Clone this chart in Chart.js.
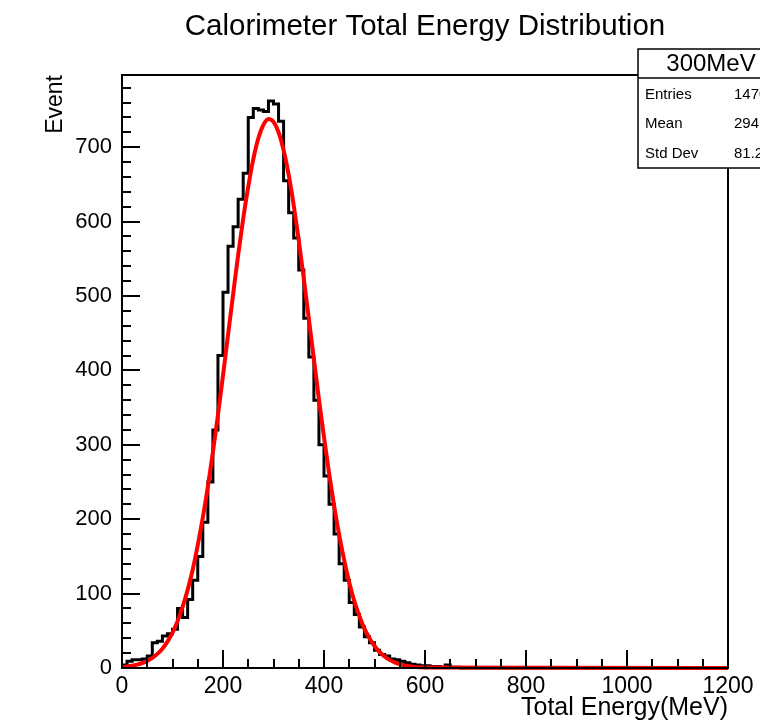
<!DOCTYPE html>
<html><head><meta charset="utf-8">
<script src="https://cdn.jsdelivr.net/npm/chart.js@4"></script>
<style>html,body{margin:0;padding:0;background:#fff;}canvas{display:block}</style>
</head><body>
<canvas id="c" width="760" height="723" style="width:760px;height:723px"></canvas>
<script>
const titleText = 'Calorimeter Total Energy Distribution';
const xTitle = 'Total Energy(MeV)';
const yTitle = 'Event';
const binWidth = 10;            // MeV per bin
const xMin = 0, xMax = 1200;
const yMin = 0, yMax = 797;
const xTicks = [0, 200, 400, 600, 800, 1000, 1200];
const yTicks = [0, 100, 200, 300, 400, 500, 600, 700];
const xMinorStep = 50, yMinorStep = 20;

// histogram counts, bins of 10 MeV from 0 to 1200
const counts = [
  4, 9, 11, 11, 12, 16, 34, 36, 43, 46,
  52, 80, 68, 92, 118, 150, 196, 250, 320, 420,
  505, 567, 593, 630, 665, 740, 752, 750, 748, 762,
  758, 735, 655, 612, 578, 535, 470, 418, 360, 300,
  258, 220, 180, 140, 118, 88, 72, 55, 42, 34,
  24, 18, 16, 12, 11, 9, 7, 5, 4, 3,
  3, 2, 2, 1, 4, 1, 1, 0, 0, 0,
  0, 0, 0, 0, 0, 0, 0, 0, 0, 0,
  0, 0, 0, 0, 0, 0, 0, 0, 0, 0,
  0, 0, 0, 0, 0, 0, 0, 0, 0, 0,
  0, 0, 0, 0, 0, 0, 0, 0, 0, 0,
  0, 0, 0, 0, 0, 0, 0, 0, 0, 0
];

// gaussian fit curve
const fitX = [0,10,20,30,40,50,60,70,80,90,100,110,120,130,140,150,160,170,180,190,
  200,210,220,230,240,250,260,270,280,290,300,310,320,330,340,350,360,370,380,390,
  400,410,420,430,440,450,460,470,480,490,500,510,520,530,540,550,560,570,580,590,600,1200];
const fitY = [1.3,2,3,4.5,6.6,9.5,13.5,19,26,35.5,47.6,63,82,105,132,165,202,244,290,340,
  393,448,502,555,604,647,684,712,730,738,734,720,696,663,622,575,523,469,415,361,
  310,262,218,179,145,115,90,70,53,40,29.6,21.5,15.5,10.9,7.6,5.2,3.5,2.4,1.5,1.0,0.6,0];

const statsName = '300MeV';
const statsLabels = ['Entries', 'Mean', 'Std Dev'];
const statsValues = ['14700', '294.1', '81.25'];

const FONT = '"Liberation Sans", Arial, Helvetica, sans-serif';

const histData = counts.map((c, i) => ({x: xMin + i * binWidth, y: c}));
histData.push({x: xMax, y: counts[counts.length - 1]});
const fitData = fitX.map((x, i) => ({x: x, y: fitY[i]}));

const rootPlugin = {
  id: 'rootStyle',
  afterDatasetsDraw(chart) {
    const ctx = chart.ctx;
    const ca = chart.chartArea;
    const xs = chart.scales.x, ys = chart.scales.y;
    ctx.save();
    ctx.strokeStyle = '#000';
    ctx.lineWidth = 2;
    ctx.strokeRect(ca.left, ca.top, ca.right - ca.left, ca.bottom - ca.top);
    ctx.beginPath();
    for (let v = yMin; v <= yMax; v += yMinorStep) {
      const y = Math.round(ys.getPixelForValue(v));
      const len = yTicks.includes(v) ? 18 : 9;
      ctx.moveTo(ca.left, y); ctx.lineTo(ca.left + len, y);
    }
    for (let v = xMin; v <= xMax; v += xMinorStep) {
      const x = Math.round(xs.getPixelForValue(v));
      const len = xTicks.includes(v) ? 18 : 9;
      ctx.moveTo(x, ca.bottom); ctx.lineTo(x, ca.bottom - len);
    }
    ctx.stroke();
    ctx.restore();
  },
  afterDraw(chart) {
    const ctx = chart.ctx;
    const ca = chart.chartArea;
    ctx.save();
    ctx.fillStyle = '#000';
    ctx.font = '29.5px ' + FONT;
    ctx.textAlign = 'center';
    ctx.textBaseline = 'middle';
    ctx.fillText(titleText, (ca.left + ca.right) / 2, 27);
    const bx = 638, by = 49, bw = 170, bh = 119;
    ctx.fillStyle = '#fff';
    ctx.fillRect(bx, by, bw, bh);
    ctx.strokeStyle = '#000';
    ctx.lineWidth = 1.5;
    ctx.strokeRect(bx, by, bw, bh);
    ctx.beginPath();
    ctx.moveTo(bx, 78); ctx.lineTo(bx + bw, 78);
    ctx.stroke();
    ctx.fillStyle = '#000';
    ctx.font = '24px ' + FONT;
    ctx.textAlign = 'center';
    ctx.fillText(statsName, 711, 64);
    ctx.font = '15px ' + FONT;
    ctx.textAlign = 'left';
    const rowsY = [95, 124, 154];
    statsLabels.forEach((l, i) => {
      ctx.fillText(l, 645, rowsY[i]);
      ctx.fillText(statsValues[i], 734, rowsY[i]);
    });
    ctx.restore();
  }
};

new Chart(document.getElementById('c'), {
  type: 'line',
  data: {
    datasets: [
      {
        label: 'fit',
        data: fitData,
        borderColor: '#ff0000',
        borderWidth: 4,
        pointRadius: 0,
        cubicInterpolationMode: 'monotone',
        fill: false,
        clip: 3
      },
      {
        label: 'hist',
        data: histData,
        borderColor: '#000000',
        borderWidth: 3,
        pointRadius: 0,
        stepped: 'before',
        fill: false,
        clip: 3
      }
    ]
  },
  options: {
    responsive: false,
    devicePixelRatio: 1,
    animation: false,
    layout: {padding: {top: 75, right: 32, bottom: 0, left: 0}},
    plugins: {legend: {display: false}, tooltip: {enabled: false}, title: {display: false}},
    scales: {
      x: {
        type: 'linear', min: xMin, max: xMax, position: 'bottom',
        grid: {display: false, drawTicks: false},
        border: {display: false},
        ticks: {padding: 5, color: '#000', maxRotation: 0, autoSkip: false,
          font: {family: FONT, size: 23}, callback: v => String(v)},
        afterBuildTicks(s) { s.ticks = xTicks.map(v => ({value: v})); },
        title: {display: true, text: xTitle, align: 'end', color: '#000',
          font: {family: FONT, size: 25}, padding: {top: 0, bottom: 0}},
        afterFit(s) { s.height = 55; s.paddingLeft = 0; s.paddingRight = 0; }
      },
      y: {
        type: 'linear', min: yMin, max: yMax,
        grid: {display: false, drawTicks: false},
        border: {display: false},
        ticks: {padding: 10, color: '#000',
          font: {family: FONT, size: 22}, callback: v => String(v)},
        afterBuildTicks(s) { s.ticks = yTicks.map(v => ({value: v})); },
        title: {display: true, text: yTitle, align: 'end', color: '#000',
          font: {family: FONT, size: 23}, padding: {top: 42, bottom: 0}},
        afterFit(s) { s.width = 122; s.paddingTop = 0; s.paddingBottom = 0; }
      }
    }
  },
  plugins: [rootPlugin]
});
</script>
</body></html>
